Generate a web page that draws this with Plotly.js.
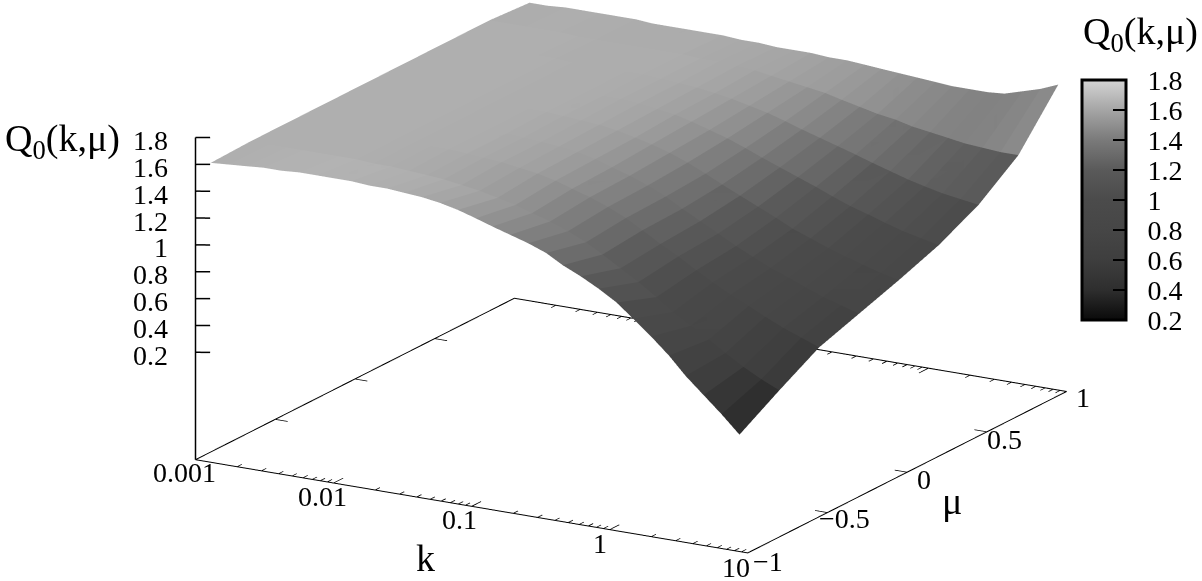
<!DOCTYPE html>
<html><head><meta charset="utf-8">
<script src="https://cdn.plot.ly/plotly-3.0.1.min.js"></script>
<style>html,body{margin:0;padding:0;background:#fff}#c{width:1202px;height:581px}</style></head>
<body><div id="c"></div>
<script>
// log10(k) of the surface columns
const logK=[-2.89,-2.76,-2.63,-2.51,-2.38,-2.25,-2.12,-2.00,-1.87,-1.74,-1.61,-1.49,-1.36,-1.23,-1.10,-0.97,-0.85,-0.72,-0.59,-0.46,-0.34,-0.21,-0.08,0.05,0.17,0.30,0.43,0.55,0.68,0.81,0.94];
const mu=[-1,-0.75,-0.5,-0.25,0,0.25,0.5,0.75,1];
const Q_m100=[1.63,1.64,1.65,1.66,1.66,1.67,1.67,1.67,1.67,1.66,1.66,1.65,1.64,1.62,1.59,1.55,1.51,1.47,1.43,1.38,1.31,1.25,1.18,1.10,1.00,0.89,0.77,0.64,0.52,0.40,0.27];
const Q_m075=[1.64,1.64,1.64,1.64,1.64,1.64,1.64,1.63,1.63,1.62,1.61,1.60,1.58,1.56,1.53,1.50,1.46,1.42,1.37,1.31,1.24,1.16,1.08,0.99,0.90,0.82,0.74,0.66,0.58,0.51,0.45];
const Q_m050=[1.64,1.64,1.64,1.64,1.64,1.64,1.64,1.63,1.63,1.63,1.62,1.61,1.60,1.58,1.56,1.53,1.49,1.45,1.40,1.34,1.27,1.19,1.12,1.04,0.97,0.90,0.84,0.78,0.72,0.67,0.62];
const Q_m025=[1.64,1.64,1.64,1.64,1.64,1.64,1.64,1.63,1.63,1.63,1.62,1.61,1.60,1.59,1.57,1.54,1.50,1.46,1.41,1.35,1.28,1.21,1.14,1.07,1.01,0.95,0.90,0.85,0.80,0.76,0.72];
const Q_000=[1.64,1.64,1.64,1.64,1.64,1.64,1.64,1.63,1.63,1.63,1.63,1.62,1.61,1.60,1.58,1.55,1.52,1.48,1.43,1.37,1.31,1.25,1.19,1.13,1.07,1.02,0.97,0.93,0.89,0.85,0.82];
const Q_p025=[1.64,1.64,1.64,1.64,1.64,1.64,1.64,1.63,1.63,1.63,1.63,1.62,1.62,1.61,1.59,1.57,1.54,1.50,1.46,1.41,1.36,1.31,1.26,1.21,1.16,1.11,1.07,1.03,0.99,0.96,0.93];
const Q_p050=[1.64,1.64,1.64,1.64,1.64,1.64,1.64,1.63,1.63,1.63,1.63,1.63,1.62,1.61,1.60,1.58,1.56,1.53,1.50,1.46,1.42,1.38,1.34,1.30,1.26,1.22,1.18,1.15,1.12,1.10,1.08];
const Q_p075=[1.64,1.64,1.64,1.64,1.64,1.63,1.63,1.63,1.63,1.63,1.63,1.63,1.62,1.62,1.61,1.60,1.58,1.56,1.54,1.52,1.49,1.46,1.43,1.41,1.38,1.36,1.34,1.32,1.31,1.30,1.30];
const Q_p100=[1.62,1.62,1.63,1.63,1.63,1.63,1.63,1.62,1.62,1.62,1.62,1.62,1.61,1.61,1.60,1.60,1.60,1.59,1.59,1.58,1.57,1.56,1.55,1.54,1.53,1.53,1.53,1.54,1.58,1.62,1.675];
const Qrows=[Q_m100,Q_m075,Q_m050,Q_m025,Q_000,Q_p025,Q_p050,Q_p075,Q_p100];

const kTickLabels=['0.001','0.01','0.1','1','10'];
const kTickLog=[-3,-2,-1,0,1];
const kMinorFactors=[2,3,4,5,6,7,8,9];
const muTicks=[-1,-0.5,0,0.5,1];
const muTickLabels=['−1','−0.5','0','0.5','1'];
const zTicks=[0.2,0.4,0.6,0.8,1,1.2,1.4,1.6,1.8];
const zTickLabels=['0.2','0.4','0.6','0.8','1','1.2','1.4','1.6','1.8'];
const grayStops=[[0.2,10],[0.3,28],[0.4,46],[0.6,62],[0.8,70],[1.0,75],[1.2,90],[1.4,122],[1.6,165],[1.8,212]];

const K0=-3,K1=1,M0=-1,M1=1,Z0=-0.6,Z1=1.8,CMIN=0.2,CMAX=1.8;

// mesh built from the table: one flat-coloured quad per cell
const X=[],Y=[],Z=[],I=[],J=[],K=[],V=[];
Qrows.forEach((r,m)=>r.forEach((q,c)=>{X.push(logK[c]);Y.push(mu[m]);Z.push(q);}));
const nc=logK.length;
for(let m=0;m<mu.length-1;m++)for(let c=0;c<nc-1;c++){
  const a=m*nc+c,b=a+1,d=a+nc,e=d+1;
  const v=(Z[a]+Z[b]+Z[d]+Z[e])/4;
  I.push(a,a);J.push(b,e);K.push(e,d);V.push(v,v);
}
const surface={type:'mesh3d',x:X,y:Y,z:Z,i:I,j:J,k:K,intensity:V,intensitymode:'cell',
  colorscale:grayStops.map(s=>[(s[0]-CMIN)/(CMAX-CMIN),`rgb(${s[1]},${s[1]},${s[1]})`]),
  cmin:CMIN,cmax:CMAX,flatshading:true,hoverinfo:'skip',
  lighting:{ambient:1,diffuse:0,specular:0,fresnel:0,roughness:1},
  colorbar:{x:1082/1202,xanchor:'left',xref:'paper',y:1-320/581,yanchor:'bottom',yref:'paper',len:240,lenmode:'pixels',
    thickness:44,thicknessmode:'pixels',outlinewidth:3,outlinecolor:'#000',xpad:0,ypad:0,
    tickmode:'array',tickvals:zTicks,ticktext:zTickLabels.map(s=>'\u2002'+s),ticks:'inside',ticklen:14,tickwidth:1.5,tickcolor:'#000',
    tickfont:{family:'Liberation Serif',size:28,color:'#000'}}
};

// frame lines
function seg(arr,a,b){arr.x.push(a[0],b[0],null);arr.y.push(a[1],b[1],null);arr.z.push(a[2],b[2],null);}
const floor={x:[K0,K1,K1,K0,K0],y:[M0,M0,M1,M1,M0],z:[Z0,Z0,Z0,Z0,Z0]};
const frame={x:[],y:[],z:[]},zline={x:[],y:[],z:[]};
seg(zline,[K0,M0,Z0],[K0,M0,Z1]);
kTickLog.forEach(l=>{
  seg(frame,[l,M0,Z0],[l,M0+0.06,Z0]);seg(frame,[l,M1,Z0],[l,M1-0.06,Z0]);
  if(l<K1)kMinorFactors.forEach(f=>{const x=l+Math.log10(f);
    seg(frame,[x,M0,Z0],[x,M0+0.03,Z0]);seg(frame,[x,M1,Z0],[x,M1-0.03,Z0]);});
});
muTicks.forEach(m=>{seg(frame,[K0,m,Z0],[K0+0.09,m,Z0]);seg(frame,[K1,m,Z0],[K1-0.09,m,Z0]);});
zTicks.concat([Z1]).forEach(z=>seg(zline,[K0,M0,z],[K0+0.08,M0+0.022,z]));
const line=(o,w)=>({type:'scatter3d',mode:'lines',x:o.x,y:o.y,z:o.z,line:{color:'#000',width:w},connectgaps:false,hoverinfo:'skip',showlegend:false});

const tf={family:'Liberation Serif',size:28,color:'#000'};
const bigf={family:'Liberation Serif',size:38,color:'#000'};
const ann=[];
const kShift=[[-11,-13],[-11,-13],[-12,-13],[-10,-14],[-12,-15]];
kTickLog.forEach((l,i)=>ann.push({x:l,y:M0,z:Z0,text:kTickLabels[i],showarrow:false,font:tf,xshift:kShift[i][0],yshift:kShift[i][1]}));
const muShift=[[20,-9],[17,-6],[17,-7],[18,-8],[16,-6]];
muTicks.forEach((m,i)=>ann.push({x:K1,y:m,z:Z0,text:muTickLabels[i],showarrow:false,font:tf,xshift:muShift[i][0],yshift:muShift[i][1]}));
zTicks.forEach((z,i)=>ann.push({x:K0,y:M0,z:z,text:zTickLabels[i],showarrow:false,font:tf,xanchor:'right',xshift:-26,yshift:-3}));
ann.push({x:-1,y:M0,z:Z0,text:'k',showarrow:false,font:bigf,xshift:-46,yshift:-52});
ann.push({x:K1,y:0,z:Z0,text:'μ',showarrow:false,font:bigf,xshift:45,yshift:-29});

// camera: orthographic, gnuplot style view 73,30
const tilt=17*Math.PI/180,rot=30*Math.PI/180,R=4;
const n=[Math.sin(rot)*Math.cos(tilt),-Math.cos(rot)*Math.cos(tilt),Math.sin(tilt)];
const u=[Math.cos(rot),Math.sin(rot),0],v=[-Math.sin(rot)*Math.sin(tilt),Math.cos(rot)*Math.sin(tilt),Math.cos(tilt)];
const S=290,sx=30,sy=26;
const cen=[0,1,2].map(i=>-(sx/S)*u[i]-(sy/S)*v[i]);
const eye=[0,1,2].map(i=>cen[i]+R*n[i]);
const off={visible:false};
const titleText='Q<sub>0</sub>(k,μ)';
// ranges padded by 1% so that the frame lines are not clipped at the scene bounds
const pad=1.01;
const layout={width:1202,height:581,margin:{l:0,r:0,t:0,b:0,autoexpand:false},paper_bgcolor:'#fff',showlegend:false,
  scene:{domain:{x:[0,1],y:[0,1]},aspectmode:'manual',aspectratio:{x:2.195*pad,y:2.195*pad,z:1.16*pad},
    xaxis:Object.assign({range:[-1-2*pad,-1+2*pad],autorange:false},off),yaxis:Object.assign({range:[-pad,pad],autorange:false},off),zaxis:Object.assign({range:[0.6-1.2*pad,0.6+1.2*pad],autorange:false},off),
    camera:{projection:{type:'orthographic'},eye:{x:eye[0],y:eye[1],z:eye[2]},center:{x:cen[0],y:cen[1],z:cen[2]},up:{x:0,y:0,z:1}},
    annotations:ann},
  annotations:[
    {xref:'paper',yref:'paper',x:3/1202,y:1-141/581,xanchor:'left',yanchor:'middle',showarrow:false,text:titleText,font:bigf},
    {xref:'paper',yref:'paper',x:1081/1202,y:1-34/581,xanchor:'left',yanchor:'middle',showarrow:false,text:titleText,font:bigf}],
  shapes:zTicks.slice(1,-1).map(z=>({type:'line',xref:'paper',yref:'paper',x0:1082/1202,x1:1096/1202,y0:1-(320-(z-CMIN)/(CMAX-CMIN)*240)/581,y1:1-(320-(z-CMIN)/(CMAX-CMIN)*240)/581,line:{color:'#000',width:1.5}}))
};
Plotly.newPlot('c',[surface,line(floor,2),line(frame,1.5),line(zline,3)],layout,{displayModeBar:false});
</script></body></html>
